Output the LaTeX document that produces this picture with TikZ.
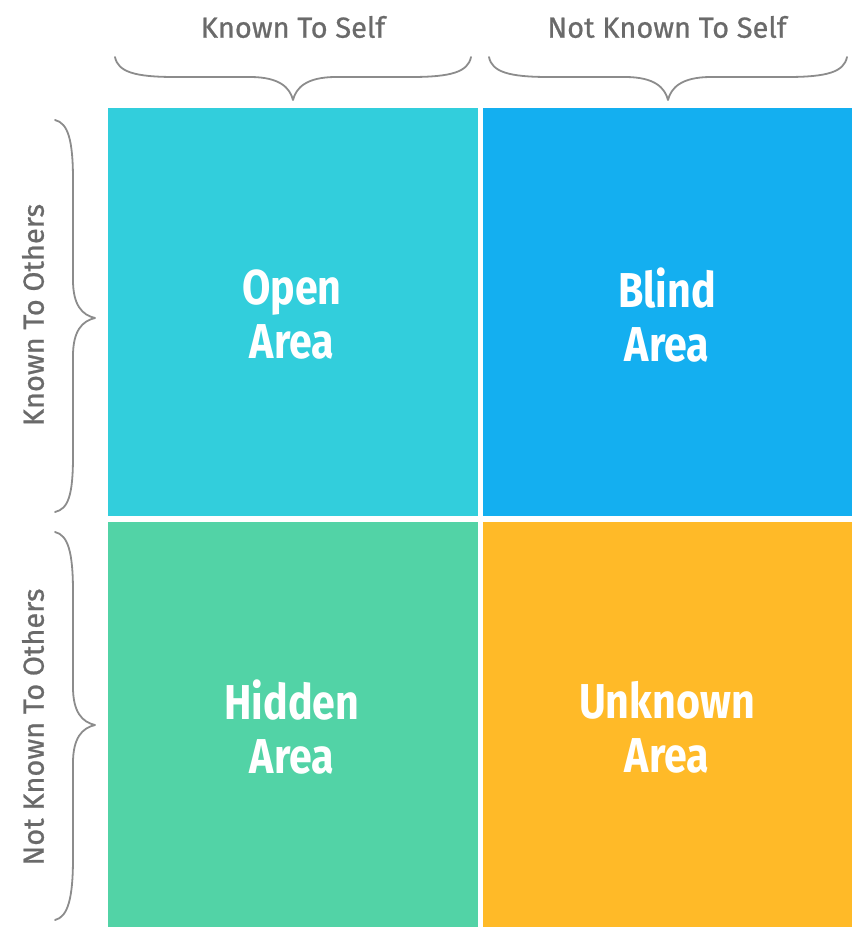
\documentclass[tikz,border=0pt]{standalone}
\usepackage{fontspec}
\setmainfont[FakeStretch=0.84]{Fira Sans}
\newfontfamily\axisfont[FakeBold=0.8]{Fira Sans}
\definecolor{cOpen}{HTML}{32CEDC}
\definecolor{cBlind}{HTML}{14AFF0}
\definecolor{cHidden}{HTML}{52D3A6}
\definecolor{cUnknown}{HTML}{FFBA28}
\definecolor{cLabel}{HTML}{6A6A6A}
\definecolor{cBrace}{HTML}{8C8C8C}
\tikzset{
  area/.style={text=white, align=center, font=\bfseries\fontsize{49}{54}\selectfont},
  axislabel/.style={text=cLabel, font=\axisfont\fontsize{29}{34}\selectfont},
  bracepath/.style={draw=cBrace, line width=1.8pt, line cap=round, line join=round}
}
\begin{document}
\begin{tikzpicture}[x=1pt,y=-1pt]
\useasboundingbox (0,0) rectangle (856,927);
% cells
\fill[cOpen] (108,108) rectangle (478,516);
\fill[cBlind] (483,108) rectangle (852,516);
\fill[cHidden] (108,522) rectangle (478,927);
\fill[cUnknown] (483,522) rectangle (852,927);
% area labels
\node[area] (open) at (292,315) {Open\\Area};
\node[area] (blind) at (667,315) {Blind\\Area};
\node[area] (hidden) at (292,727) {Hidden\\Area};
\node[area] (unknown) at (667,727) {Unknown\\Area};
% top labels
\node[axislabel] (kself) at (293,27) {Known To Self};
\node[axislabel] (nkself) at (667,27) {Not Known To Self};
% left labels
\node[axislabel, rotate=90] (kothers) at (33,315) {Known To Others};
\node[axislabel, rotate=90] (nkothers) at (33,727) {Not Known To Others};
% top braces
\draw[bracepath] (115,57) .. controls (118,72) and (135,77) .. (175,77) -- (250,77)
  .. controls (280,77) and (290,88) .. (293,100)
  .. controls (296,88) and (306,77) .. (336,77) -- (411,77)
  .. controls (451,77) and (468,72) .. (471,57);
\draw[bracepath] (489,57) .. controls (492,72) and (509,77) .. (549,77) -- (625,77)
  .. controls (655,77) and (665,88) .. (668,100)
  .. controls (671,88) and (681,77) .. (711,77) -- (787,77)
  .. controls (827,77) and (844,72) .. (847,57);
% left braces
\draw[bracepath] (55,120) .. controls (68,123) and (73,140) .. (73,180) -- (73,280)
  .. controls (73,305) and (82,315) .. (95,318)
  .. controls (82,321) and (73,331) .. (73,356) -- (73,456)
  .. controls (73,496) and (68,509) .. (55,512);
\draw[bracepath] (55,532) .. controls (68,535) and (73,552) .. (73,592) -- (73,687)
  .. controls (73,712) and (82,722) .. (95,725)
  .. controls (82,728) and (73,738) .. (73,763) -- (73,858)
  .. controls (73,898) and (68,917) .. (55,920);
\end{tikzpicture}
\end{document}
